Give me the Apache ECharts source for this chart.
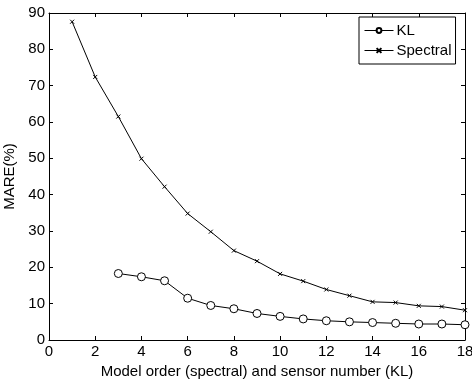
<!DOCTYPE html>
<html>
<head>
<meta charset="utf-8">
<script src="https://cdn.jsdelivr.net/npm/echarts@6/dist/echarts.min.js"></script>
<style>
  html, body { margin: 0; padding: 0; background: #fff; }
  #grafico { width: 472px; height: 379px; }
</style>
</head>
<body>
<div id="grafico"></div>
<script>
// Datos
var ordenSpectral = [1, 2, 3, 4, 5, 6, 7, 8, 9, 10, 11, 12, 13, 14, 15, 16, 17, 18];
var mareSpectral = [87.6, 72.4, 61.5, 49.9, 42.2, 34.8, 29.8, 24.6, 21.7, 18.2, 16.2, 13.9, 12.2, 10.5, 10.3, 9.4, 9.2, 8.2];
var sensoresKL = [3, 4, 5, 6, 7, 8, 9, 10, 11, 12, 13, 14, 15, 16, 17, 18];
var mareKL = [18.3, 17.4, 16.3, 11.5, 9.5, 8.6, 7.3, 6.5, 5.8, 5.3, 5.0, 4.8, 4.6, 4.4, 4.4, 4.2];

var fuente = 'Liberation Sans';

function pares(xs, ys) {
  return xs.map(function (x, i) { return [x, ys[i]]; });
}

var chart = echarts.init(document.getElementById('grafico'));

// ejes secundarios para las marcas de arriba y de la derecha (caja estilo MATLAB)
var ejeBase = {
  type: 'value',
  axisLine: { show: true, onZero: false, lineStyle: { color: '#000', width: 1 } },
  axisTick: { show: true, inside: true, length: 4, lineStyle: { color: '#000' } },
  splitLine: { show: false }
};

var option = {
  animation: false,
  backgroundColor: '#fff',
  textStyle: { fontFamily: fuente },
  grid: { left: 49, right: 7, top: 13, bottom: 39, containLabel: false, outerBoundsMode: 'none' },
  legend: {
    data: ['KL', 'Spectral'],
    orient: 'vertical',
    left: 359,
    top: 17,
    padding: [6, 4, 6, 5],
    itemGap: 5,
    itemWidth: 29,
    itemHeight: 6,
    borderColor: '#000',
    borderWidth: 1,
    borderRadius: 0,
    backgroundColor: '#fff',
    lineStyle: { width: 1, color: '#000' },
    textStyle: { fontFamily: fuente, fontSize: 15, color: '#000', padding: [0, 0, 0, -2] }
  },
  xAxis: [
    Object.assign({}, ejeBase, {
      min: 0, max: 18, interval: 2,
      name: 'Model order (spectral) and sensor number (KL)',
      nameLocation: 'middle',
      nameGap: 18,
      nameTextStyle: { fontFamily: fuente, fontSize: 15, color: '#000' },
      axisLabel: { fontFamily: fuente, fontSize: 15, color: '#000', margin: 4 }
    }),
    Object.assign({}, ejeBase, {
      position: 'top', min: 0, max: 18, interval: 2,
      axisLabel: { show: false }
    })
  ],
  yAxis: [
    Object.assign({}, ejeBase, {
      min: 0, max: 90, interval: 10,
      name: 'MARE(%)',
      nameLocation: 'middle',
      nameGap: 21,
      nameTextStyle: { fontFamily: fuente, fontSize: 15, color: '#000' },
      axisLabel: { fontFamily: fuente, fontSize: 15, color: '#000', margin: 4 }
    }),
    Object.assign({}, ejeBase, {
      position: 'right', min: 0, max: 90, interval: 10,
      axisLabel: { show: false }
    })
  ],
  series: [
    {
      name: 'KL',
      type: 'line',
      data: pares(sensoresKL, mareKL),
      symbol: 'circle',
      symbolSize: 8,
      showAllSymbol: true,
      lineStyle: { color: '#000', width: 1 },
      itemStyle: { color: '#fff', borderColor: '#000', borderWidth: 1 }
    },
    {
      name: 'Spectral',
      type: 'line',
      data: pares(ordenSpectral, mareSpectral),
      symbol: 'path://M0,0L10,10M10,0L0,10',
      symbolSize: 4,
      showAllSymbol: true,
      lineStyle: { color: '#000', width: 1 },
      itemStyle: { color: 'none', borderColor: '#000', borderWidth: 1 }
    }
  ]
};

chart.setOption(option);
</script>
</body>
</html>
